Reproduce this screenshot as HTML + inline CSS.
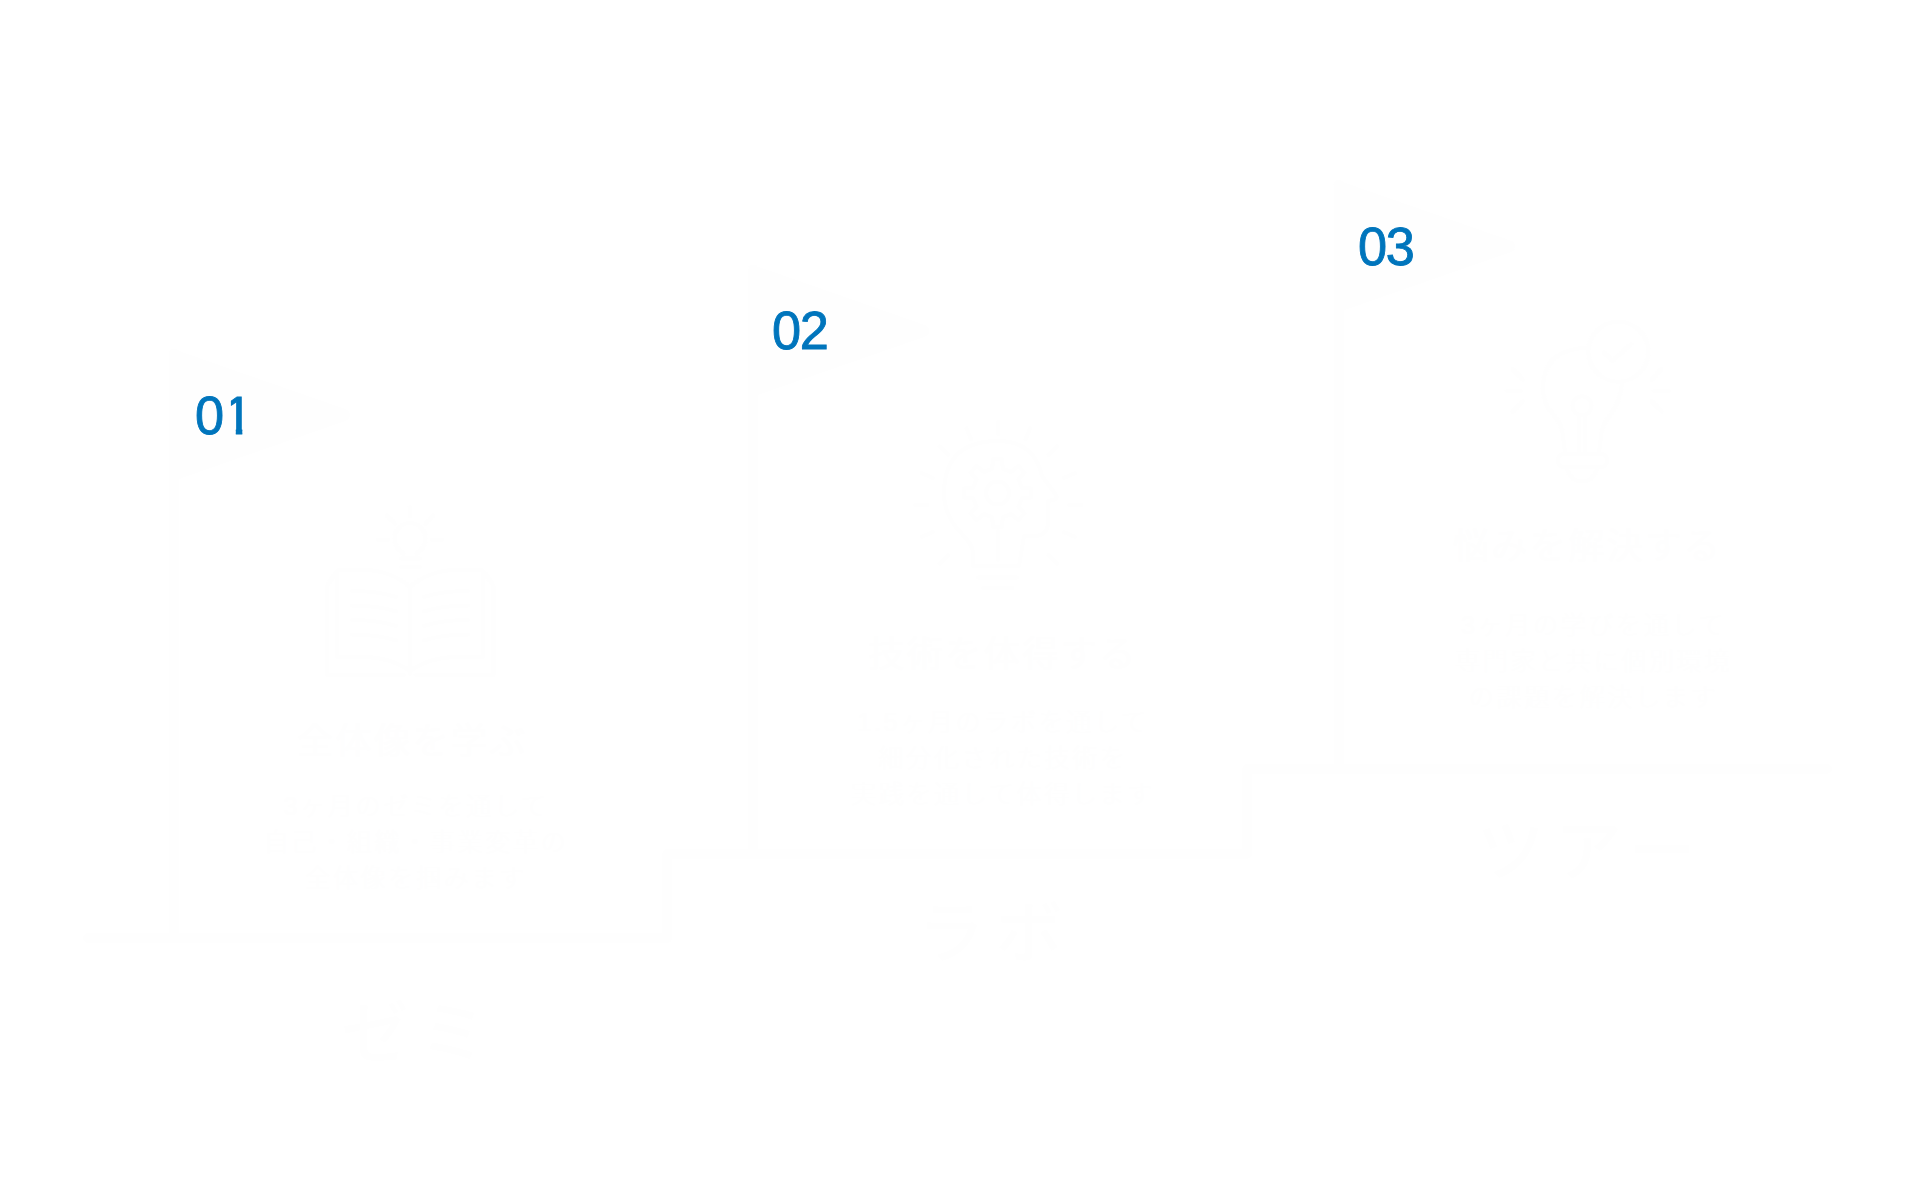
<!DOCTYPE html>
<html lang="ja">
<head>
<meta charset="utf-8">
<title>Steps</title>
<style>
  html, body { margin: 0; padding: 0; background: #ffffff; }
  body {
    width: 1920px; height: 1200px; position: relative; overflow: hidden;
    font-family: "Liberation Sans", "Noto Sans CJK JP", sans-serif;
  }
  .abs { position: absolute; }
  .faint { position: absolute; left: 0; top: 0; width: 1920px; height: 1200px; }
  .stair { left: 0; top: 0; width: 1920px; height: 1200px; }
  .num {
    position: absolute;
    font-family: "Liberation Sans", sans-serif;
    font-size: 54.5px; line-height: 54px; height: 54px;
    color: #0075bc;
    letter-spacing: -1.5px;
    -webkit-text-stroke: 0.9px #0075bc;
    white-space: nowrap;
    transform: scaleX(0.96); transform-origin: 0 0;
  }
  .one { display: inline-block; margin-left: 1px; clip-path: polygon(7.5px 0, 19.6px 0, 19.6px 36px, 19.45px 36px, 19.45px 100%, 12.7px 100%, 12.7px 36px, 12.3px 36px, 12.3px 17px, 7.5px 17px); }
  .title {
    position: absolute; width: 500px; text-align: center;
    font-size: 36px; line-height: 44px; letter-spacing: 2.5px; font-weight: 400;
    color: #fefefe; white-space: nowrap;
  }
  .body {
    position: absolute; width: 500px; text-align: center;
    font-size: 25px; line-height: 36px; letter-spacing: 2.7px; font-weight: 300;
    color: #fefefe; white-space: nowrap;
  }
  .label {
    position: absolute; width: 400px; text-align: center;
    font-size: 67px; line-height: 80px; font-weight: 500; letter-spacing: 11px;
    color: #fefefe; white-space: nowrap;
  }
</style>
</head>
<body>

<div class="faint">
<!-- staircase, flag poles and flags -->
<svg class="abs stair" viewBox="0 0 1920 1200">
  <g fill="none" stroke="#fefefe" stroke-width="9.8" stroke-linecap="round" stroke-linejoin="round">
    <polyline points="87.9,938 667.2,938 667.2,853.8 1247.2,853.8 1247.2,768.9 1827.1,768.9"/>
  </g>
  <g fill="#fefefe" stroke="#fefefe" stroke-width="12" stroke-linejoin="round">
    <polygon points="175,356 344,415 175,474"/>
    <polygon points="754.5,271.8 923.5,330.8 754.5,389.8"/>
    <polygon points="1340,187.3 1509,246.3 1340,305.3"/>
  </g>
  <g fill="#fefefe">
    <rect x="169" y="349" width="9.5" height="589" rx="4"/>
    <rect x="748.5" y="264.8" width="9.5" height="589" rx="4"/>
    <rect x="1334" y="180.3" width="9.5" height="589" rx="4"/>
  </g>

  <!-- icon 1 : open book with light bulb -->
  <g fill="none" stroke="#fefefe" stroke-width="4.1" stroke-linecap="round" stroke-linejoin="round">
    <path d="M403.5,554 Q394.500,547.500 394.500,538.500 A15.5,15.5 0 1 1 425.500,538.500 Q425.500,547.500 416.500,554"/>
    <path d="M400.5,558.5 H420.5 M401,567 H420"/>
    <path d="M410,507 V516.5 M387,515.5 L395,524 M433,515.5 L425.5,524 M378,539.7 H388 M432,539.7 H442.5"/>
    <path d="M337,657 V573 Q337,570 340,570 H366 Q392,571 410,587 Q428,571 454,570 H480 Q483,570 483,573 V657"/>
    <path d="M337,657 H366 Q392,658 410,671 Q428,658 454,657 H483"/>
    <path d="M410,587 V674"/>
    <path d="M336,572 L327,586 V675 H404 M484,572 L493.500,586 V675 H416"/>
    <path d="M352,591 Q378,591 396,597 M352,605.500 Q378,605.500 396,611.500 M352,620 Q378,620 396,626 M352,634.500 Q378,634.500 396,640.500"/>
    <path d="M468,591 Q442,591 424,597 M468,605.500 Q442,605.500 424,611.500 M468,620 Q442,620 424,626 M468,634.500 Q442,634.500 424,640.500"/>
  </g>

  <!-- icon 2 : head with gear -->
  <g fill="none" stroke="#fefefe" stroke-width="4.1" stroke-linecap="round" stroke-linejoin="round">
    <path d="M973,566 V552 Q972,544 962,534 Q944,516 944,494 Q944,441 998,441 Q1034,441 1042,476 L1056,495 Q1058,499 1053,500 L1048,501 V522 Q1048,536 1034,536 H1024 L1019,566 Z"/>
    <path d="M992.2,468.6 L993.0,459.3 L1002.0,459.3 L1002.8,468.6 L1011.1,472.0 L1018.1,466.0 L1024.5,472.4 L1018.5,479.4 L1021.9,487.7 L1031.2,488.5 L1031.2,497.5 L1021.9,498.3 L1018.5,506.6 L1024.5,513.6 L1018.1,520.0 L1011.1,514.0 L1002.8,517.4 L1002.0,526.7 L993.0,526.7 L992.2,517.4 L983.9,514.0 L976.9,520.0 L970.5,513.6 L976.5,506.6 L973.1,498.3 L963.8,497.5 L963.8,488.5 L973.1,487.7 L976.5,479.4 L970.5,472.4 L976.9,466.0 L983.9,472.0 Z"/>
    <circle cx="997.5" cy="493" r="11.500"/>
    <path d="M998,531 V560"/>
    <path d="M978,577.500 H1017.500 M983,588 H1012.500"/>
    <path d="M948.1,555.2 L939.6,563.7 M932.7,532.2 L921.6,536.8 M927.3,505.0 L915.3,505.0 M932.7,477.8 L921.6,473.2 M948.1,454.8 L939.6,446.3 M971.1,439.4 L966.5,428.3 M998.3,434.0 L998.3,422.0 M1025.5,439.4 L1030.1,428.3 M1048.5,454.8 L1057.0,446.3 M1063.9,477.8 L1075.0,473.2 M1069.3,505.0 L1081.3,505.0 M1063.9,532.2 L1075.0,536.8 M1048.5,555.2 L1057.0,563.7"/>
  </g>

  <!-- icon 3 : light bulb with check mark -->
  <g fill="none" stroke="#fefefe" stroke-width="4.1" stroke-linecap="round" stroke-linejoin="round">
    <path d="M1589,347.500 Q1543,349 1543,388 Q1543,404 1553,414 Q1562,424 1563,436 L1565,453 M1599,453 L1601,436 Q1602,424 1611,414 Q1620,402 1622,383"/>
    <circle cx="1618.300" cy="351.700" r="30"/>
    <path d="M1604,352.500 L1612.500,361 L1631,344"/>
    <circle cx="1582" cy="405.800" r="9.500"/>
    <path d="M1579,415 V453 M1585,415 V453"/>
    <rect x="1558" y="454" width="49" height="13" rx="6"/>
    <path d="M1566.500,467 Q1570,481.500 1582,481.500 Q1594,481.500 1597.500,467"/>
    <path d="M1512.500,369 L1523,380 M1507,391 H1521 M1523,401 L1512.500,411.700"/>
    <path d="M1661.500,369 L1651.500,380 M1654,391 H1669 M1651.500,401 L1661.500,411.700"/>
  </g>
</svg>

<!-- step 1 -->
<div class="title" style="left:162.5px; top:719.5px;">全体像を学ぶ</div>
<div class="body" style="left:166px; top:788px;">3ヶ月のゼミを通して<br>自己・組織・事業変革の<br>全体像を掴みます</div>
<div class="label" style="left:219.5px; top:993.5px;">ゼミ</div>

<!-- step 2 -->
<div class="title" style="left:753px; top:632.5px;">技術を体得する</div>
<div class="body" style="left:753px; top:703.5px;">1.5ヶ月のラボを通して<br>細分化された技術を<br>実践を通して体得します</div>
<div class="label" style="left:795.5px; top:894px;">ラボ</div>

<!-- step 3 -->
<div class="title" style="left:1337.5px; top:525px;">悩みを解決する</div>
<div class="body" style="left:1343.5px; top:607px;">3ヶ月の学びを通して<br>専門家と共に個別環境<br>の課題を解決します</div>
<div class="label" style="left:1392px; top:811.6px;">ツアー</div>

</div>

<!-- numbers -->
<div class="num" style="left:194.6px; top:388.8px;">0<span class="one">1</span></div>
<div class="num" style="left:772.2px; top:303.8px;">02</div>
<div class="num" style="left:1358.3px; top:219.8px;">03</div>

</body>
</html>
